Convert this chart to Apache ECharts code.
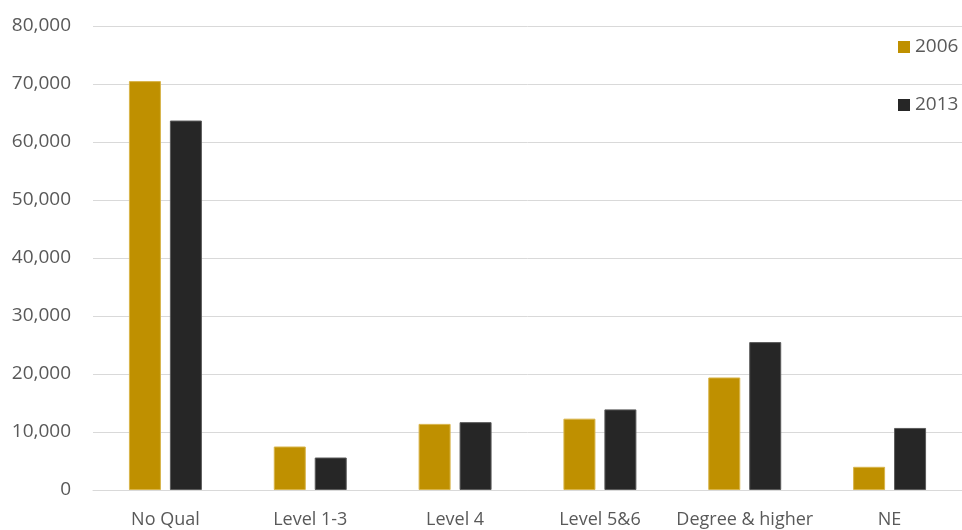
<!DOCTYPE html>
<html>
<head>
<meta charset="utf-8">
<script src="https://cdn.jsdelivr.net/npm/echarts@6/dist/echarts.min.js"></script>
<style>
  html, body { margin: 0; padding: 0; background: #ffffff; }
  #chart { width: 962px; height: 530px; }
</style>
</head>
<body>
<div id="chart"></div>
<script>
// Qualification categories and counts per year
const categories = ['No Qual', 'Level 1-3', 'Level 4', 'Level 5&6', 'Degree & higher', 'NE'];
const values2006 = [70500, 7500, 11400, 12300, 19400, 4000];
const values2013 = [63700, 5600, 11700, 13900, 25500, 10700];
const seriesNames = ['2006', '2013'];

const FONT = '"Open Sans", "Noto Sans", sans-serif';
const TEXT = '#595959';
const GRID = '#d9d9d9';

const chart = echarts.init(document.getElementById('chart'), null, { renderer: 'canvas' });

chart.setOption({
  animation: false,
  backgroundColor: '#ffffff',
  grid: { left: 93, right: 0, top: 26, bottom: 40, containLabel: false },
  legend: {
    orient: 'vertical',
    left: 893,
    top: 32,
    itemWidth: 12,
    itemHeight: 12,
    itemGap: 38,
    icon: 'rect',
    itemStyle: { borderWidth: 0 },
    textStyle: { fontFamily: FONT, fontSize: 19, color: TEXT, lineHeight: 20 },
    data: seriesNames
  },
  xAxis: {
    type: 'category',
    data: categories,
    axisLine: { show: true, lineStyle: { color: GRID, width: 1 } },
    axisTick: { show: false },
    axisLabel: { fontFamily: FONT, fontSize: 18, color: TEXT, margin: 21, interval: 0 }
  },
  yAxis: {
    type: 'value',
    min: 0,
    max: 80000,
    interval: 10000,
    axisLine: { show: false },
    axisTick: { show: false },
    splitLine: { lineStyle: { color: GRID, width: 1 } },
    axisLabel: {
      fontFamily: FONT, fontSize: 19, color: TEXT, margin: 22,
      formatter: v => v.toLocaleString('en-US')
    }
  },
  series: [
    {
      name: seriesNames[0],
      type: 'bar',
      data: values2006,
      barWidth: 32,
      barGap: '28%',
      itemStyle: { color: '#bf9000', borderColor: '#d8b44a', borderWidth: 1 }
    },
    {
      name: seriesNames[1],
      type: 'bar',
      data: values2013,
      barWidth: 32,
      itemStyle: { color: '#262626', borderColor: '#5a5a5a', borderWidth: 1 }
    }
  ]
});
</script>
</body>
</html>
